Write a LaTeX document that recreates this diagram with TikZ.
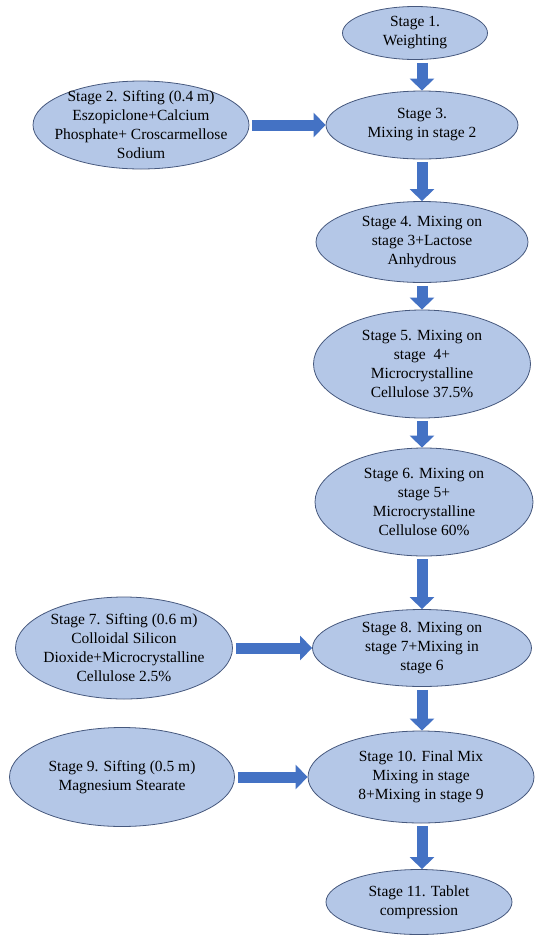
\documentclass[tikz,border=0pt]{standalone}
\usepackage{fontspec}
\setmainfont{Liberation Serif}
\usepackage{tikz}
\usetikzlibrary{shapes.geometric}
\usetikzlibrary{arrows.meta}
\definecolor{stagefill}{RGB}{180,199,231}
\definecolor{stageline}{RGB}{70,88,125}
\definecolor{arrowblue}{RGB}{68,114,196}

\tikzset{
  stage/.style={ellipse, draw=stageline, line width=0.8pt, fill=stagefill, inner sep=0pt},
  stagetext/.style={align=center, inner sep=0pt, font=\fontsize{15.5}{19}\selectfont},
  flow/.style={arrowblue, line width=11pt, -{Triangle[width=24pt,length=12pt]}, shorten <=3pt}
}

\begin{document}
\begin{tikzpicture}[x=1pt,y=-1pt]
\useasboundingbox (0,0) rectangle (535,938);
% main column
\node[stage, minimum width=145pt, minimum height=53pt, label={[stagetext]center:{Stage 1.\\Weighting}}] (s1) at (415,33) {};
\node[stage, minimum width=192pt, minimum height=68pt, label={[stagetext]center:{Stage 3.\\Mixing in stage 2}}] (s3) at (422,125) {};
\node[stage, minimum width=212pt, minimum height=81pt, label={[stagetext]center:{Stage 4. Mixing on\\stage 3+Lactose\\Anhydrous}}] (s4) at (422,242) {};
\node[stage, minimum width=217pt, minimum height=108pt, label={[stagetext]center:{Stage 5. Mixing on\\stage\ \ 4+\\Microcrystalline\\Cellulose 37.5\%}}] (s5) at (422,364) {};
\node[stage, minimum width=218pt, minimum height=108pt, label={[stagetext]center:{Stage 6. Mixing on\\stage 5+\\Microcrystalline\\Cellulose 60\%}}] (s6) at (424,502) {};
\node[stage, minimum width=219pt, minimum height=77pt, label={[stagetext]center:{Stage 8. Mixing on\\stage 7+Mixing in\\stage 6}}] (s8) at (422,648) {};
\node[stage, minimum width=226pt, minimum height=92pt, label={[stagetext]center:{Stage 10. Final Mix\\Mixing in stage\\8+Mixing in stage 9}}] (s10) at (421,777) {};
\node[stage, minimum width=186pt, minimum height=65pt, label={[stagetext]center:{Stage 11. Tablet\\compression}}] (s11) at (419,902) {};
% sifting stages
\node[stage, minimum width=216pt, minimum height=88pt, label={[stagetext]center:{Stage 2. Sifting (0.4 m)\\Eszopiclone+Calcium\\Phosphate+ Croscarmellose\\Sodium}}] (s2) at (141,125) {};
\node[stage, minimum width=217pt, minimum height=102pt, label={[stagetext]center:{Stage 7. Sifting (0.6 m)\\Colloidal Silicon\\Dioxide+Microcrystalline\\Cellulose 2.5\%}}] (s7) at (124,648) {};
\node[stage, minimum width=225pt, minimum height=99pt, label={[stagetext]center:{Stage 9. Sifting (0.5 m)\\Magnesium Stearate}}] (s9) at (122,777) {};
% arrows
\draw[flow] (s1.south -| s3) -- (s3.north);
\draw[flow] (s3.south) -- (s4.north);
\draw[flow] (s4.south) -- (s5.north);
\draw[flow] (s5.south) -- (s5.south |- s6.north);
\draw[flow] (s6.south -| s8) -- (s8.north);
\draw[flow] (s8.south) -- (s8.south |- s10.north);
\draw[flow] (s10.south -| s8) -- (s8 |- s11.north);
\draw[flow] (s2) -- (s3);
\draw[flow] (s7) -- (s8);
\draw[flow] (s9) -- (s10);
\end{tikzpicture}
\end{document}
